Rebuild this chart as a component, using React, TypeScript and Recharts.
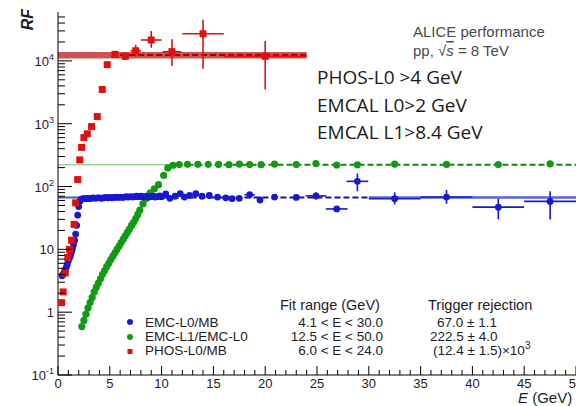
import React from 'react';
import { ScatterChart, Scatter, XAxis, YAxis, ErrorBar, ReferenceLine, ReferenceArea } from 'recharts';

const FONT = '"Liberation Sans", Arial, Helvetica, sans-serif';
const TXT = '#1c1c28';
const BLUE = '#1818d0';
const GREEN = '#139a13';
const RED = '#e01010';

// ---- axis ticks / labels ----
const X_TICKS = [0,1,2,3,4,5,6,7,8,9,10,11,12,13,14,15,16,17,18,19,20,21,22,23,24,25,26,27,28,29,30,31,32,33,34,35,36,37,38,39,40,41,42,43,44,45,46,47,48,49,50];
const X_LABELS = [0, 5, 10, 15, 20, 25, 30, 35, 40, 45, 50];
const Y_MAJOR = [0.1, 1, 10, 100, 1000, 10000];
const Y_MINOR_MULT = [2, 3, 4, 5, 6, 7, 8, 9];
const Y_LABEL_BASE = ['10', '1', '10', '10', '10', '10'];
const Y_LABEL_EXP = ['-1', '', '', '2', '3', '4'];
const Y_TICKS = Y_MAJOR.concat(
  ...Y_MAJOR.map(d => Y_MINOR_MULT.map(m => Number((d * m).toPrecision(3))))
).filter(v => v < 60000).sort((a, b) => a - b);

// ---- EMC-L0/MB (blue) ----
const BLUE_E = [0.4,0.5,0.6,0.7,0.8,0.9,1.0,1.1,1.2,1.3,1.4,1.5,1.6,1.7,1.8,1.9,2.0,2.1,2.2,2.3,2.4,
  2.6,2.8,3.0,3.2,3.4,3.6,3.8,4.0,4.2,4.4,4.6,4.8,5.0,5.2,5.4,5.6,5.8,6.0,6.2,6.4,6.6,6.8,7.0,7.2,7.4,7.6,7.8,8.0,8.2,8.4,8.6,8.8,9.0,9.2,9.4,9.6,9.8,10.0,
  10.4,10.8,11.3,11.8,12.2,12.7,13.3,13.9,14.6,15.4,16.2,16.8,17.5,19.5,20.9,23.0];
const BLUE_RF = [3.8,4.0,4.3,4.7,5.2,5.8,6.5,7.2,8.0,9.0,10.2,11.8,14,17.5,24,35,48,58,62,63,64,
  64,65,64,65,66,65,66,66,65,66,67,66,67,66,67,68,67,68,67,68,69,68,69,68,69,70,69,70,68,69,70,68,69,70,68,69,71,69,
  76,65,70,77,68,72,77,70,72,68,66,64,65,61,68,67];
const BLUE_ERR_E = [18.5, 24.9, 26.9, 28.9, 32.5, 37.5, 42.5, 47.5];
const BLUE_ERR_RF = [74, 71, 44, 121, 64, 68, 47, 58];
const BLUE_ERR_EX = [0.5, 1.0, 1.05, 1.05, 2.5, 2.5, 2.5, 2.5];
const BLUE_ERR_LO = [7, 9, 5, 37, 12, 15, 17, 28];
const BLUE_ERR_HI = [7, 10, 5, 40, 17, 20, 17, 26];

// ---- EMC-L1/EMC-L0 (green) ----
const GREEN_E = [2.3,2.5,2.7,2.9,3.1,3.3,3.5,3.7,3.9,4.1,4.3,4.5,4.7,4.9,5.1,5.3,5.5,5.7,5.9,6.1,6.3,6.5,6.7,6.9,7.1,7.3,7.5,7.7,7.9,8.2,8.5,8.9,9.3,9.7,10.2,10.6,11.1,11.7,
  12.5,13.5,14.5,15.5,16.5,17.5,18.5,19.6,20.9,23.0,24.9,26.9,28.9,32.5,37.5,42.5,47.5];
const GREEN_RF = [0.59,0.74,0.93,1.17,1.42,1.72,2.1,2.5,2.9,3.4,4.0,4.6,5.3,6.0,6.9,7.8,8.8,10.0,11.3,12.8,14.5,16.4,18.6,21,24,27,31,36,42,53,64,79,92,107,150,198,218,224,
  226,226,226,225,223,228,224,223,228,224,232,220,222,228,225,224,230];

// ---- PHOS-L0/MB (red) ----
const RED_E = [0.35,0.5,0.7,0.95,1.1,1.3,1.55,1.7,1.9,2.1,2.28,2.5,2.83,3.24,3.79,4.27,4.75];
const RED_RF = [1.42,2.1,4.2,7.4,10,14,25,55,129,265,420,600,690,900,1300,3500,8700];
const RED_ERR_E = [5.5, 6.5, 7.5, 9.0, 11.0, 14.0, 20.0];
const RED_ERR_RF = [12700, 11800, 14500, 21500, 14000, 27000, 11800];
const RED_ERR_EX = [0.25, 0.25, 0.5, 1.0, 0.9, 2.0, 4.0];
const RED_ERR_LO = [700, 1500, 2800, 5300, 5700, 19500, 8300];
const RED_ERR_HI = [700, 1800, 3500, 8400, 8000, 18000, 8900];

// ---- fits ----
const FIT_NAMES = ['EMC-L0/MB', 'EMC-L1/EMC-L0', 'PHOS-L0/MB'];
const FIT_RANGE_LABELS = ['4.1 < E < 30.0', '12.5 < E < 50.0', '6.0 < E < 24.0'];
const FIT_VALUES = [67.0, 222.5, 12400];
const FIT_ERRORS = [1.1, 4.0, 1500];
const FIT_LO = [4.1, 12.5, 6.0];
const FIT_HI = [30.0, 50.0, 24.0];
const E_MIN = 0;
const E_MAX = 50;

const pts = (xs: number[], ys: number[]) => xs.map((x, i) => ({ x, y: ys[i] }));
const errPts = (xs: number[], ys: number[], ex: number[], lo: number[], hi: number[]) =>
  xs.map((x, i) => ({ x, y: ys[i], ex: ex[i], ey: [lo[i], hi[i]] }));

const blueData = pts(BLUE_E, BLUE_RF);
const blueErrData = errPts(BLUE_ERR_E, BLUE_ERR_RF, BLUE_ERR_EX, BLUE_ERR_LO, BLUE_ERR_HI);
const greenData = pts(GREEN_E, GREEN_RF);
const redData = pts(RED_E, RED_RF);
const redErrData = errPts(RED_ERR_E, RED_ERR_RF, RED_ERR_EX, RED_ERR_LO, RED_ERR_HI);

const dot = (color: string, r: number) => (p: any) => <circle cx={p.cx} cy={p.cy} r={r} fill={color} />;
const square = (color: string, s: number) => (p: any) => (
  <rect x={p.cx - s / 2} y={p.cy - s / 2} width={s} height={s} fill={color} />
);

const BottomTick = (p: any) => {
  const { x, y, payload } = p;
  const v = payload.value;
  const major = X_LABELS.includes(v);
  return (
    <g>
      <line x1={x} y1={y} x2={x} y2={y - (major ? 9 : 5)} stroke="#000" strokeWidth={1} />
      {major && (
        <text x={x} y={y + 12.5} textAnchor="middle" fontSize={13} fontFamily={FONT} fill={TXT}>{v}</text>
      )}
    </g>
  );
};
const TopTick = (p: any) => {
  const { x, y, payload } = p;
  const major = X_LABELS.includes(payload.value);
  return <line x1={x} y1={y} x2={x} y2={y + (major ? 9 : 5)} stroke="#000" strokeWidth={1} />;
};
const LeftTick = (p: any) => {
  const { x, y, payload } = p;
  const idx = Y_MAJOR.indexOf(payload.value);
  const major = idx >= 0;
  return (
    <g>
      <line x1={x} y1={y} x2={x + (major ? 14 : 7)} y2={y} stroke="#000" strokeWidth={1} />
      {major && (
        <text x={x - 4} y={y + 5} textAnchor="end" fontSize={13} fontFamily={FONT} fill={TXT}>
          {Y_LABEL_BASE[idx]}
          {Y_LABEL_EXP[idx] && <tspan dy={-6} fontSize={9}>{Y_LABEL_EXP[idx]}</tspan>}
        </text>
      )}
    </g>
  );
};
const RightTick = (p: any) => {
  const { x, y, payload } = p;
  const major = Y_MAJOR.includes(payload.value);
  return <line x1={x} y1={y} x2={x - (major ? 12 : 6)} y2={y} stroke="#000" strokeWidth={1} />;
};

const ax = { xAxisId: 'b', yAxisId: 'l' };

export default function App() {
  const [bV, gV, rV] = FIT_VALUES;
  return (
    <div style={{ position: 'absolute', left: 0, top: 0, width: 576, height: 406, background: '#fff' }}>
      <ScatterChart width={576} height={406} margin={{ top: 12, right: 0, bottom: 0, left: 0 }}>
        <XAxis xAxisId="b" dataKey="x" type="number" domain={[E_MIN, E_MAX]} allowDataOverflow ticks={X_TICKS}
          interval={0} height={31} tickSize={0} tickMargin={0} tickLine={false}
          axisLine={{ stroke: '#000' }} tick={<BottomTick />} />
        <XAxis xAxisId="t" orientation="top" dataKey="x" type="number" domain={[E_MIN, E_MAX]} allowDataOverflow
          ticks={X_TICKS} interval={0} height={0} tickSize={0} tickMargin={0} tickLine={false}
          axisLine={{ stroke: '#000' }} tick={<TopTick />} />
        <YAxis yAxisId="l" dataKey="y" type="number" scale="log" domain={[0.1, 60000]} allowDataOverflow
          ticks={Y_TICKS} interval={0} width={58} tickSize={0} tickMargin={0} tickLine={false}
          axisLine={{ stroke: '#000' }} tick={<LeftTick />} />
        <YAxis yAxisId="r" orientation="right" dataKey="y" type="number" scale="log" domain={[0.1, 60000]}
          allowDataOverflow ticks={Y_TICKS} interval={0} width={0} tickSize={0} tickMargin={0} tickLine={false}
          axisLine={{ stroke: '#000' }} tick={<RightTick />} />

        {/* PHOS fit band and line */}
        <ReferenceArea {...ax} x1={E_MIN} x2={FIT_HI[2]} y1={rV - FIT_ERRORS[2]} y2={rV + FIT_ERRORS[2]}
          fill="#c02828" fillOpacity={0.8} stroke="none" />
        <ReferenceLine {...ax} segment={[{ x: FIT_LO[2], y: rV }, { x: FIT_HI[2], y: rV }]}
          stroke="#a00000" strokeWidth={2.2} strokeDasharray="6 3" />
        {/* EMC-L1 fit */}
        <ReferenceLine {...ax} segment={[{ x: E_MIN, y: gV }, { x: FIT_LO[1], y: gV }]}
          stroke="#9ad89a" strokeWidth={1.5} />
        <ReferenceLine {...ax} segment={[{ x: FIT_LO[1], y: gV }, { x: FIT_HI[1], y: gV }]}
          stroke="#108a10" strokeWidth={2} strokeDasharray="6 3" />
        {/* EMC-L0 fit */}
        <ReferenceLine {...ax} segment={[{ x: E_MIN, y: bV }, { x: FIT_LO[0], y: bV }]}
          stroke="#4454d4" strokeWidth={2} />
        <ReferenceLine {...ax} segment={[{ x: FIT_LO[0], y: bV }, { x: FIT_HI[0], y: bV }]}
          stroke="#1010b8" strokeWidth={2} strokeDasharray="6 3" />
        <ReferenceLine {...ax} segment={[{ x: FIT_HI[0], y: bV }, { x: E_MAX, y: bV }]}
          stroke="#5565dc" strokeWidth={2.5} />

        <Scatter {...ax} data={greenData} shape={dot(GREEN, 3.6)} isAnimationActive={false} />
        <Scatter {...ax} data={blueData} shape={dot(BLUE, 3.4)} isAnimationActive={false} />
        <Scatter {...ax} data={blueErrData} shape={dot(BLUE, 3.4)} isAnimationActive={false}>
          <ErrorBar dataKey="ey" direction="y" width={0} stroke={BLUE} strokeWidth={1.6} />
          <ErrorBar dataKey="ex" direction="x" width={0} stroke={BLUE} strokeWidth={1.6} />
        </Scatter>
        <Scatter {...ax} data={redData} shape={square(RED, 7)} isAnimationActive={false} />
        <Scatter {...ax} data={redErrData} shape={square(RED, 7)} isAnimationActive={false}>
          <ErrorBar dataKey="ey" direction="y" width={0} stroke={RED} strokeWidth={1.6} />
          <ErrorBar dataKey="ex" direction="x" width={0} stroke={RED} strokeWidth={1.6} />
        </Scatter>
      </ScatterChart>

      <svg width={576} height={406} style={{ position: 'absolute', left: 0, top: 0, pointerEvents: 'none' }}>
        <text transform="translate(33,9) rotate(-90)" textAnchor="end" fontSize={16} fontWeight="bold"
          fontStyle="italic" fontFamily={FONT} fill={TXT}>RF</text>
        <text x={518} y={403} fontSize={15} fontFamily={FONT} fill={TXT}>
          <tspan fontStyle="italic">E</tspan> (GeV)
        </text>

        <text x={413} y={37} fontSize={15} fontFamily={FONT} fill="#4a4a4a">ALICE performance</text>
        <text x={413} y={56} fontSize={15} fontFamily={FONT} fill="#4a4a4a">
          pp, √<tspan fontStyle="italic" textDecoration="overline">s</tspan> = 8 TeV
        </text>

        <text x={317} y={84} fontSize={19} fontFamily='"Open Sans", sans-serif' fill="#1a1a1a">PHOS-L0 &gt;4 GeV</text>
        <text x={317} y={111.5} fontSize={19} fontFamily='"Open Sans", sans-serif' fill="#1a1a1a">EMCAL L0&gt;2 GeV</text>
        <text x={317} y={139} fontSize={19} fontFamily='"Open Sans", sans-serif' fill="#1a1a1a">EMCAL L1&gt;8.4 GeV</text>

        <text x={280} y={310} fontSize={14.5} fontFamily={FONT} fill={TXT}>Fit range (GeV)</text>
        <text x={428} y={310} fontSize={14.5} fontFamily={FONT} fill={TXT}>Trigger rejection</text>

        <circle cx={130} cy={322} r={3} fill={BLUE} />
        <circle cx={130} cy={337} r={3} fill={GREEN} />
        <rect x={127.5} y={349} width={5} height={5} fill={RED} />

        {FIT_NAMES.map((n, i) => (
          <text key={n} x={145} y={326.5 + i * 14.4} fontSize={13.5} fontFamily={FONT} fill={TXT}>{n}</text>
        ))}
        {FIT_RANGE_LABELS.map((n, i) => (
          <text key={n} x={383} y={326.5 + i * 14.4} textAnchor="end" fontSize={13.5} fontFamily={FONT} fill={TXT}>{n}</text>
        ))}
        <text x={437} y={326.5} fontSize={13.5} fontFamily={FONT} fill={TXT}>{FIT_VALUES[0].toFixed(1)} ± {FIT_ERRORS[0].toFixed(1)}</text>
        <text x={430} y={340.9} fontSize={13.5} fontFamily={FONT} fill={TXT}>{FIT_VALUES[1].toFixed(1)} ± {FIT_ERRORS[1].toFixed(1)}</text>
        <text x={433} y={355.3} fontSize={13.5} fontFamily={FONT} fill={TXT}>
          ({(FIT_VALUES[2] / 1000).toFixed(1)} ± {(FIT_ERRORS[2] / 1000).toFixed(1)})×10<tspan dy={-6} fontSize={10}>3</tspan>
        </text>
      </svg>
    </div>
  );
}
